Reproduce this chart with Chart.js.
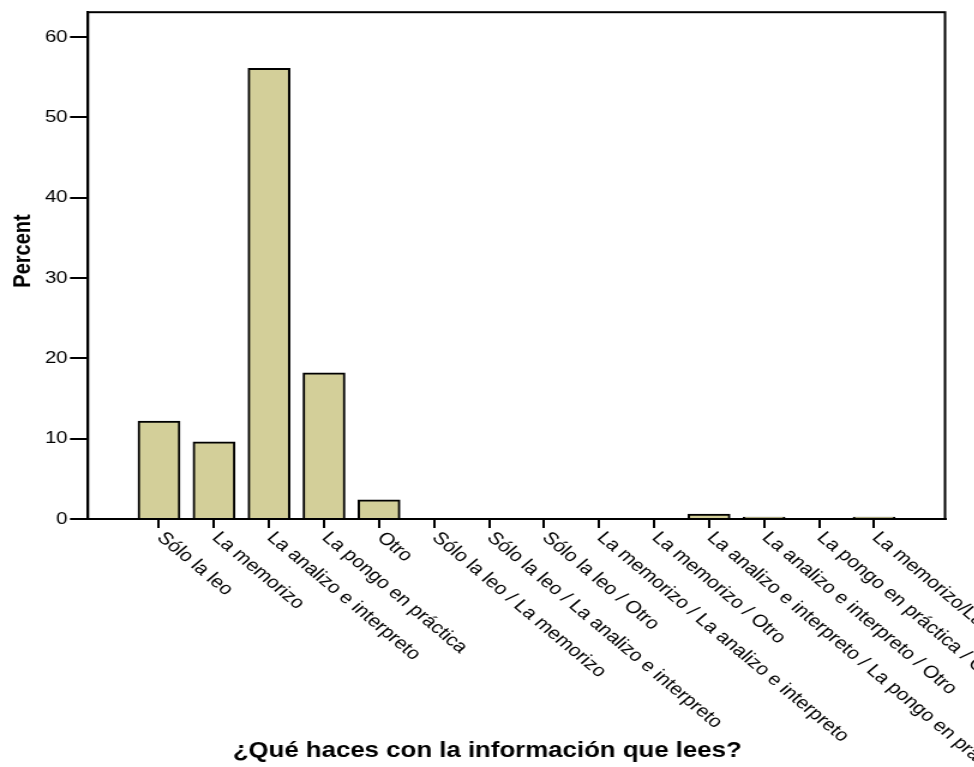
<!DOCTYPE html>
<html>
<head>
<meta charset="utf-8">
<script src="https://cdn.jsdelivr.net/npm/chart.js@4/dist/chart.umd.min.js"></script>
<style>
  html, body { margin: 0; padding: 0; background: #fff; overflow: hidden; }
  /* the original export is stretched sideways, text included */
  #wrap { width: 812px; height: 767px; transform: scale(1.2, 1); transform-origin: 0 0; }
</style>
</head>
<body>
<div id="wrap"><canvas id="chart" width="812" height="767"></canvas></div>
<script>
// categories (x axis)
const categories = [
  "Sólo la leo",
  "La memorizo",
  "La analizo e interpreto",
  "La pongo en práctica",
  "Otro",
  "Sólo la leo / La memorizo",
  "Sólo la leo / La analizo e interpreto",
  "Sólo la leo / Otro",
  "La memorizo / La analizo e interpreto",
  "La memorizo / Otro",
  "La analizo e interpreto / La pongo en práctica",
  "La analizo e interpreto / Otro",
  "La pongo en práctica / Otro",
  "La memorizo/La pongo en práctica"
];

// percent per category
const percents = [12.2, 9.6, 56.1, 18.2, 2.4, 0.1, 0.1, 0.1, 0.1, 0.1, 0.6, 0.25, 0.12, 0.25];

const yTicks = [0, 10, 20, 30, 40, 50, 60];

const FONT = "'Liberation Sans', Arial, sans-serif";

// frame, axis titles and rotated category labels (text runs down-right from each tick)
const framePlugin = {
  id: "frame",
  afterDraw(chart) {
    const { ctx, chartArea } = chart;
    const xs = chart.scales.x;
    ctx.save();
    ctx.strokeStyle = "#000";
    ctx.lineWidth = 2;
    ctx.strokeRect(chartArea.left, chartArea.top, chartArea.right - chartArea.left, chartArea.bottom - chartArea.top);

    ctx.fillStyle = "#000";

    // y title
    ctx.save();
    ctx.font = "bold 20px " + FONT;
    ctx.textAlign = "center";
    ctx.textBaseline = "middle";
    ctx.translate(19, 251);
    ctx.rotate(-Math.PI / 2);
    ctx.fillText("Percent", 0, 0);
    ctx.restore();

    // x title, centred on the whole picture
    ctx.font = "bold 21.5px " + FONT;
    ctx.textAlign = "center";
    ctx.textBaseline = "alphabetic";
    ctx.fillText("¿Qué haces con la información que lees?", chart.width / 2, 757);

    ctx.font = "17.5px " + FONT;
    ctx.textAlign = "left";
    ctx.textBaseline = "middle";
    categories.forEach((label, i) => {
      const x = xs.getPixelForValue(i);
      ctx.save();
      ctx.translate(x + 1, chartArea.bottom + 16);
      ctx.rotate(Math.PI / 4);
      ctx.fillText(label, 0, 0);
      ctx.restore();
    });
    ctx.restore();
  }
};

new Chart(document.getElementById("chart"), {
  type: "bar",
  data: {
    datasets: [{
      data: percents.map((v, i) => ({ x: i, y: v })),
      backgroundColor: "#d3cf99",
      borderColor: "#000",
      borderWidth: 2,
      borderSkipped: "bottom",
      barThickness: 35
    }]
  },
  options: {
    responsive: false,
    animation: false,
    layout: { padding: { top: 12, right: 24.5, left: 0, bottom: 0 } },
    plugins: {
      legend: { display: false },
      tooltip: { enabled: false }
    },
    scales: {
      x: {
        type: "linear",
        min: -1.291,
        max: 14.29,
        offset: false,
        afterBuildTicks: s => { s.ticks = categories.map((_, i) => ({ value: i })); },
        afterFit: s => { s.height = 248; },
        ticks: { display: false },
        grid: { offset: false, drawOnChartArea: false, drawTicks: true, tickLength: 9, color: "#000", lineWidth: 2 },
        border: { display: true, color: "#000", width: 2 }
      },
      y: {
        min: 0,
        max: 63.1,
        afterBuildTicks: s => { s.ticks = yTicks.map(v => ({ value: v })); },
        afterFit: s => { s.width = 73.3; },
        ticks: { color: "#000", padding: 2, font: { family: FONT, size: 17 } },
        grid: { drawOnChartArea: false, drawTicks: true, tickLength: 15, color: "#000", lineWidth: 2 },
        border: { display: true, color: "#000", width: 2 }
      }
    }
  },
  plugins: [framePlugin]
});
</script>
</body>
</html>
